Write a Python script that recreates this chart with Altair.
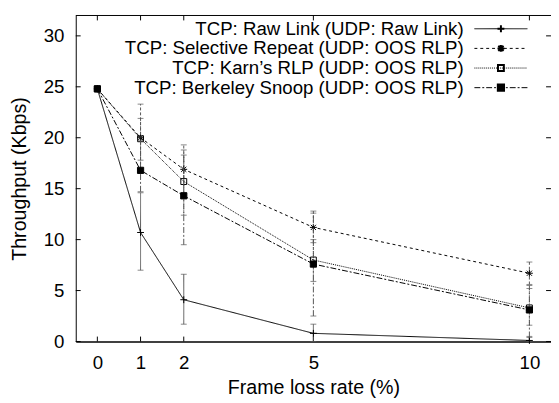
import altair as alt
import pandas as pd

# ---- data ----
x_vals = [0, 1, 2, 5, 10]
series_names = [
    "TCP: Raw Link (UDP: Raw Link)",
    "TCP: Selective Repeat (UDP: OOS RLP)",
    "TCP: Karn\u2019s RLP (UDP: OOS RLP)",
    "TCP: Berkeley Snoop (UDP: OOS RLP)",
]
raw = [24.8, 10.7, 4.1, 0.8, 0.1]
raw_lo = [24.6, 7.0, 1.7, 0.0, 0.0]
raw_hi = [25.0, 14.6, 6.6, 1.7, 0.5]
sr = [24.8, 20.0, 16.9, 11.2, 6.7]
sr_lo = [24.6, 16.9, 14.6, 9.7, 5.6]
sr_hi = [25.0, 23.3, 19.3, 12.8, 7.8]
karn = [24.8, 19.9, 15.7, 8.0, 3.3]
karn_lo = [24.6, 17.8, 12.4, 5.9, 1.6]
karn_hi = [25.0, 21.9, 18.3, 10.0, 5.2]
snoop = [24.8, 16.8, 14.3, 7.6, 3.1]
snoop_lo = [24.6, 14.7, 9.5, 2.5, 0.4]
snoop_hi = [25.0, 19.7, 18.8, 12.6, 5.5]

x_ticks = [0, 1, 2, 5, 10]
y_ticks = [0, 5, 10, 15, 20, 25, 30]

values = [raw, sr, karn, snoop]
lows = [raw_lo, sr_lo, karn_lo, snoop_lo]
highs = [raw_hi, sr_hi, karn_hi, snoop_hi]

# ---- styles ----
W, H = 484, 332
FONT = "Liberation Sans"
FS_LAB = 19
FS_TXT = 20
FS_KEY = 19
PLUS = "M-1,0L1,0M0,-1L0,1"
STAR = "M-1,0L1,0M0,-1L0,1M-0.75,-0.75L0.75,0.75M-0.75,0.75L0.75,-0.75"
styles = [
    dict(dash=[1, 0], shape=PLUS, filled=False, size=49, errdash=[1, 0]),
    dict(dash=[3, 3], shape=STAR, filled=False, size=49, errdash=[3, 2]),
    dict(dash=[1, 1], shape="square", filled=False, size=36, errdash=[1, 1]),
    dict(dash=[6, 2, 2, 2], shape="square", filled=True, size=40, errdash=[6, 2, 2, 2]),
]

xs = alt.Scale(domain=[-0.5, 10.5], nice=False, zero=False)
ys = alt.Scale(domain=[0, 32], nice=False, zero=False)

ERR = "#555555"
layers = []
for i, name in enumerate(series_names):
    df = pd.DataFrame({"x": x_vals, "y": values[i], "lo": lows[i], "hi": highs[i]})
    st = styles[i]
    base = alt.Chart(df)
    err = base.mark_rule(color=ERR, strokeWidth=1, strokeDash=st["errdash"]).encode(
        x=alt.X("x:Q", scale=xs), y=alt.Y("lo:Q", scale=ys), y2="hi:Q")
    cap_lo = base.mark_tick(color=ERR, orient="horizontal", size=6, thickness=1).encode(
        x=alt.X("x:Q", scale=xs), y=alt.Y("lo:Q", scale=ys))
    cap_hi = base.mark_tick(color=ERR, orient="horizontal", size=6, thickness=1).encode(
        x=alt.X("x:Q", scale=xs), y=alt.Y("hi:Q", scale=ys))
    line = base.mark_line(color="black", strokeWidth=1, strokeDash=st["dash"]).encode(
        x=alt.X("x:Q", scale=xs), y=alt.Y("y:Q", scale=ys))
    if st["filled"]:
        pt = base.mark_point(shape=st["shape"], filled=True, fill="black", stroke="black",
                             strokeWidth=1, size=st["size"], opacity=1)
    else:
        pt = base.mark_point(shape=st["shape"], filled=False, stroke="black",
                             strokeWidth=1, size=st["size"], opacity=1)
    pt = pt.encode(x=alt.X("x:Q", scale=xs), y=alt.Y("y:Q", scale=ys))
    layers += [err, cap_lo, cap_hi, line, pt]

# axes (main, carry labels and titles)
axis_df = pd.DataFrame({"x": x_ticks})
yt_df = pd.DataFrame({"y": y_ticks})
axes_x = alt.Chart(axis_df).mark_rule(opacity=0).encode(
    x=alt.X("x:Q", scale=xs, axis=alt.Axis(values=x_ticks, title="Frame loss rate (%)",
                                           ticks=False, labelPadding=13, titlePadding=5,
                                           titleFontSize=FS_TXT,
                                           domainColor="black", domainWidth=1.6, grid=False)))
axes_y = alt.Chart(yt_df).mark_rule(opacity=0).encode(
    y=alt.Y("y:Q", scale=ys, axis=alt.Axis(values=y_ticks, title="Throughput (Kbps)",
                                           ticks=False, labelPadding=12, titlePadding=14,
                                           domainColor="black", domainWidth=1, grid=False)))
# inward ticks on all four sides
tick_b = alt.Chart(axis_df).mark_rule(color="black").encode(
    x=alt.X("x:Q", scale=xs), y=alt.value(H - 5), y2=alt.value(H))
tick_t = alt.Chart(axis_df).mark_rule(color="black").encode(
    x=alt.X("x:Q", scale=xs), y=alt.value(0), y2=alt.value(5))
tick_l = alt.Chart(yt_df).mark_rule(color="black").encode(
    y=alt.Y("y:Q", scale=ys), x=alt.value(0), x2=alt.value(5))
tick_r = alt.Chart(yt_df).mark_rule(color="black").encode(
    y=alt.Y("y:Q", scale=ys), x=alt.value(W - 5), x2=alt.value(W))
top_line = alt.Chart(axis_df.head(1)).mark_rule(color="black").encode(
    x=alt.value(0), x2=alt.value(W), y=alt.value(0))

# manual key (gnuplot style: text right-aligned, sample to the right)
key_layers = []
for i, name in enumerate(series_names):
    st = styles[i]
    kdf = pd.DataFrame({"name": [name]})
    yy = 13.5 + 20 * i
    kb = alt.Chart(kdf)
    key_layers.append(kb.mark_text(align="right", baseline="middle", fontSize=FS_KEY, font=FONT,
                                   color="black").encode(text="name:N", x=alt.value(395), y=alt.value(yy)))
    key_layers.append(kb.mark_rule(color="black", strokeWidth=1, strokeDash=st["dash"]).encode(
        x=alt.value(406), x2=alt.value(460), y=alt.value(yy)))
    if st["filled"]:
        kp = kb.mark_point(shape=st["shape"], filled=True, fill="black", stroke="black",
                           size=st["size"], opacity=1)
    else:
        kp = kb.mark_point(shape=st["shape"], filled=False, stroke="black",
                           size=st["size"], opacity=1)
    key_layers.append(kp.encode(x=alt.value(433), y=alt.value(yy)))

chart = alt.layer(axes_x, axes_y, tick_b, tick_t, tick_l, tick_r, top_line,
                  *layers, *key_layers).properties(
    width=W, height=H,
    background="white",
    autosize=alt.AutoSizeParams(type="none"),
    padding={"left": 69, "top": 4, "right": 0, "bottom": 59},
).configure_view(stroke=None).configure_axis(
    labelFont=FONT, titleFont=FONT, labelFontSize=FS_LAB, titleFontSize=FS_TXT,
    titleFontWeight="normal", labelColor="black", titleColor="black",
)

chart.save("out.html", embed_options={"renderer": "svg", "actions": False})
